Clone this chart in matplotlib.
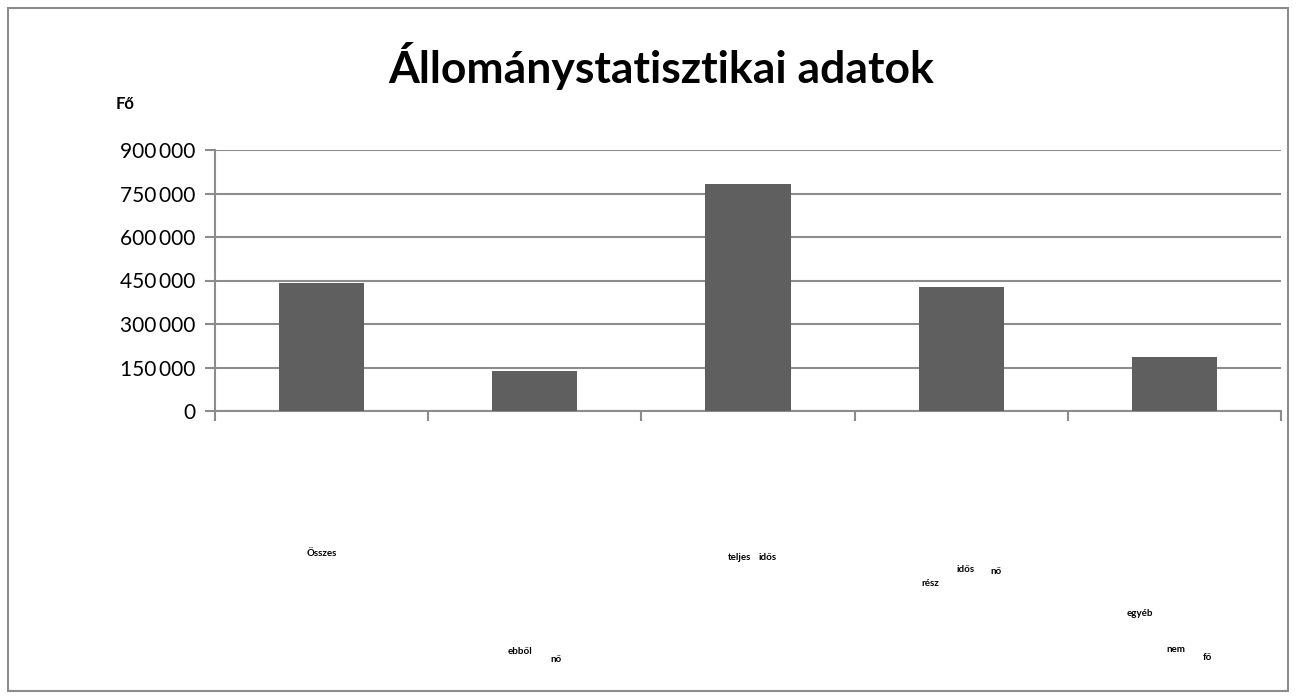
import matplotlib
matplotlib.use("Agg")
import matplotlib.pyplot as plt
from matplotlib.patches import Rectangle
from matplotlib.ticker import FuncFormatter

categories = ["Összes", "ebből nő", "teljes idős", "rész idős nő", "egyéb nem fő"]
values = [441000, 138000, 783000, 428000, 186000]
yticks = [0, 150000, 300000, 450000, 600000, 750000, 900000]

W, H = 1296, 699
fig = plt.figure(figsize=(W / 100, H / 100), dpi=100)
fig.patch.set_facecolor("white")
fig.patches.append(Rectangle((8 / W, 8 / H), 1280 / W, 683 / H, transform=fig.transFigure,
                             fill=False, edgecolor="#8c8c8c", linewidth=1.5))

font = "Lato"
ax = fig.add_axes([215 / W, 1 - 411 / H, (1281 - 215) / W, (411 - 150) / H])
x = list(range(len(categories)))
ax.bar(x, values, width=0.4, color="#5f5f5f", zorder=3)
ax.set_xlim(-0.5, len(categories) - 0.5)
ax.set_ylim(0, 900000)
ax.set_yticks(yticks)
ax.yaxis.set_major_formatter(FuncFormatter(lambda v, p: f"{int(v):,}".replace(",", "\u2009")))
for lab in ax.get_yticklabels():
    lab.set_fontfamily(font)
    lab.set_fontsize(15)
ax.grid(axis="y", color="#8c8c8c", linewidth=1.5, zorder=0)
for s in ["top", "right"]:
    ax.spines[s].set_visible(False)
for s in ["left", "bottom"]:
    ax.spines[s].set_color("#8c8c8c")
    ax.spines[s].set_linewidth(1.5)
ax.tick_params(axis="y", length=7, width=1.5, color="#8c8c8c", pad=7)
ax.set_xticks([i - 0.5 for i in range(len(categories) + 1)])
ax.set_xticklabels([])
ax.tick_params(axis="x", length=7, width=1.5, color="#8c8c8c")

# category labels (rendered small, as in reference)
label_pos = [
    [(322, 553)],
    [(520, 651), (556, 660)],
    [(740, 558), (768, 558)],
    [(930, 583), (966, 570), (996, 572)],
    [(1140, 613), (1176, 650), (1207, 657)],
]
for cat, poss in zip(categories, label_pos):
    words = cat.split()
    for w, (px, py) in zip(words, poss):
        fig.text(px / W, 1 - py / H, w, ha="center", va="center", fontsize=7,
                 fontweight="bold", family=font, color="black")

fig.text(661 / W, 1 - 66 / H, "Állománystatisztikai adatok", ha="center", va="center",
         fontsize=32, fontweight="bold", family=font)
fig.text(125 / W, 1 - 104 / H, "Fő", ha="center", va="center", fontsize=12,
         fontweight="bold", family=font)

fig.savefig("out.png", dpi=100)
